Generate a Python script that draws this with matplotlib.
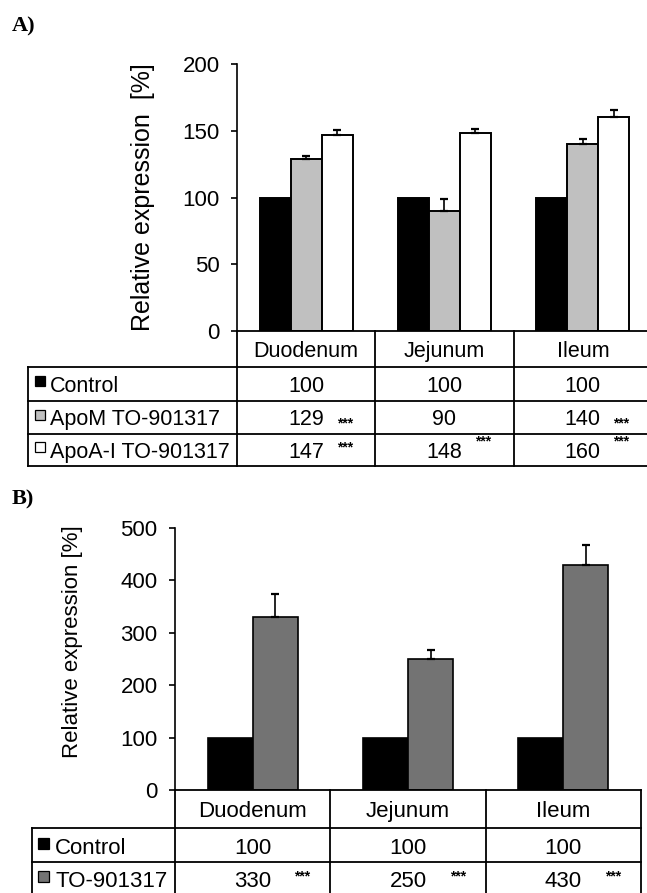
import matplotlib
matplotlib.use('Agg')
import matplotlib.pyplot as plt
from matplotlib.transforms import Affine2D, blended_transform_factory
from matplotlib.lines import Line2D
from matplotlib.patches import Rectangle

plt.rcParams['font.family'] = ['Liberation Sans', 'DejaVu Sans']

# ---------------- data ----------------
regions = ['Duodenum', 'Jejunum', 'Ileum']

a_series = ['Control', 'ApoM TO-901317', 'ApoA-I TO-901317']
a_control = [100, 100, 100]
a_apom = [129, 90, 140]
a_apoa = [147, 148, 160]
a_err_apom = [2, 9, 4]
a_err_apoa = [3.5, 3, 5.5]
a_sig = [['', '', ''], ['***', '', '***'], ['***', '***', '***']]
a_yticks = [0, 50, 100, 150, 200]

b_series = ['Control', 'TO-901317']
b_control = [100, 100, 100]
b_to = [330, 250, 430]
b_err_to = [45, 17, 38]
b_sig = [['', '', ''], ['***', '***', '***']]
b_yticks = [0, 100, 200, 300, 400, 500]

# ---------------- figure ----------------
W, H = 647, 893
fig = plt.figure(figsize=(W / 100, H / 100), dpi=100)
pix = Affine2D().scale(1 / W, -1 / H).translate(0, 1) + fig.transFigure


def axes_px(l, t, r, b):
    return fig.add_axes([l / W, 1 - b / H, (r - l) / W, (b - t) / H])


def panel(ax, vals, errs, colors, names, sig, sig_dy, yticks, ymax, width,
          edge_lw, cap, ylabel, ylab_xy, ylab_fs, tick_fs, tab_fs,
          rows, left_px, text_px, sq_px, sq_size, star_dx, val_dy, right_line):
    n = len(vals)
    for j in range(n):
        xs = [i + (j - (n - 1) / 2) * width for i in range(len(regions))]
        ax.bar(xs, vals[j], width, color=colors[j], edgecolor='black',
               linewidth=edge_lw, zorder=2)
        if errs[j] is not None:
            ax.errorbar(xs, vals[j], yerr=[[0] * len(xs), errs[j]], fmt='none',
                        ecolor='black', elinewidth=1.2, capsize=cap,
                        capthick=1.6, zorder=3)
    ax.set_xlim(-0.5, len(regions) - 0.5)
    ax.set_ylim(0, ymax)
    for s in ['top', 'right', 'bottom']:
        ax.spines[s].set_visible(False)
    ax.spines['left'].set_linewidth(1.2)
    ax.set_xticks([])
    ax.set_yticks(yticks)
    ax.tick_params(axis='y', direction='out', length=4, width=1.2,
                   pad=8.5, labelsize=tick_fs)
    ax.set_ylabel(ylabel, fontsize=ylab_fs)
    ax.yaxis.set_label_coords(*ylab_xy)
    ax.yaxis.label.set_va('center')

    blend = blended_transform_factory(ax.transData, pix)
    x_left = ax.transData.inverted().transform(pix.transform((left_px, 0)))[0]
    ncol = len(regions)
    lw = 1.3
    # horizontal lines
    fig.add_artist(Line2D([-0.5, ncol - 0.5], [rows[0], rows[0]],
                          transform=blend, color='black', lw=lw))
    for y in rows[1:]:
        fig.add_artist(Line2D([x_left, ncol - 0.5], [y, y], transform=blend,
                              color='black', lw=lw))
    # vertical lines
    fig.add_artist(Line2D([x_left, x_left], [rows[1], rows[-1]],
                          transform=blend, color='black', lw=lw))
    xcols = [c - 0.5 for c in range(ncol + 1)]
    if not right_line:
        xcols = xcols[:-1]
    for xc in xcols:
        fig.add_artist(Line2D([xc, xc], [rows[0], rows[-1]], transform=blend,
                              color='black', lw=lw))
    cap_h = 0.716 * tab_fs * 100 / 72
    # header
    hy = (rows[0] + rows[1]) / 2 + cap_h / 2
    for i, r in enumerate(regions):
        fig.text(i, hy, r, transform=blend, ha='center', va='baseline',
                 fontsize=tab_fs)
    # rows
    for j in range(n):
        yc = (rows[j + 1] + rows[j + 2]) / 2 + val_dy[j]
        yb = yc + cap_h / 2
        fig.text(text_px, yb, names[j], transform=pix, ha='left',
                 va='baseline', fontsize=tab_fs)
        fig.add_artist(Rectangle((sq_px, yb - cap_h), sq_size, sq_size,
                                 transform=pix, facecolor=colors[j],
                                 edgecolor='black', lw=0.9))
        for i in range(ncol):
            fig.text(i, yb, str(vals[j][i]), transform=blend, ha='center',
                     va='baseline', fontsize=tab_fs)
            if sig[j][i]:
                fig.text(i + star_dx, yc + sig_dy[j][i] + 7.5, sig[j][i],
                         transform=blend, ha='center', va='baseline',
                         fontsize=10, fontweight='bold')


# ---------------- panel A ----------------
axA = axes_px(237, 64, 652, 331)
panel(axA, [a_control, a_apom, a_apoa], [None, a_err_apom, a_err_apoa],
      ['black', '#c0c0c0', 'white'], a_series, a_sig,
      [[0, 0, 0], [2.5, 0, 2.5], [-6, -12, -12]],
      a_yticks, 200, 0.224, 1.4, 2.6,
      'Relative expression  [%]', (-0.2265, 0.5), 18, 16, 15.5,
      [331, 367, 401, 434, 466], 28, 50, 35, 10, 0.28, [0, 0, 0], False)
fig.text(12, 16, 'A)', transform=pix, ha='left', va='top', fontsize=16,
         fontweight='bold', family=['Liberation Serif', 'DejaVu Serif'])

# ---------------- panel B ----------------
axB = axes_px(175, 528, 641, 790)
panel(axB, [b_control, b_to], [None, b_err_to],
      ['black', '#737373'], b_series, b_sig,
      [[0, 0], [-6, -6, -6]],
      b_yticks, 500, 0.29, 1.2, 3.0,
      'Relative expression [%]', (-0.221, 0.567), 16, 16, 16,
      [790, 828, 862, 896], 32, 55, 38, 11, 0.32, [1, 0], True)
fig.text(12, 489, 'B)', transform=pix, ha='left', va='top', fontsize=16,
         fontweight='bold', family=['Liberation Serif', 'DejaVu Serif'])

fig.savefig('out.png', dpi=100)
